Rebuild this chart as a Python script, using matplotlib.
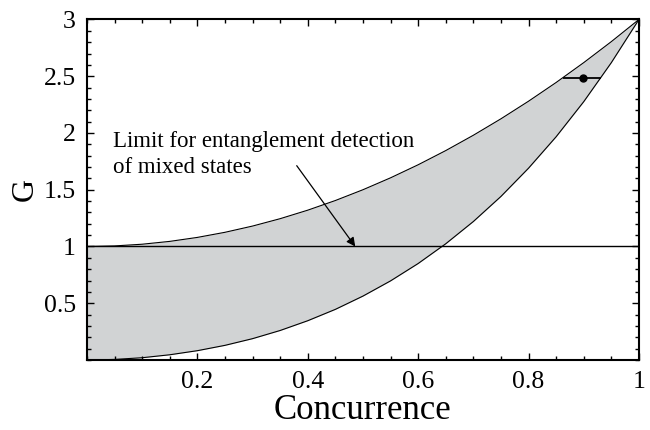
import matplotlib.pyplot as plt
from matplotlib.ticker import MultipleLocator, FixedLocator, FuncFormatter

plt.rcParams['font.family'] = ['Liberation Serif', 'DejaVu Serif']

concurrence = [0.00, 0.05, 0.10, 0.15, 0.20, 0.25, 0.30, 0.35, 0.40, 0.45, 0.50,
               0.55, 0.60, 0.65, 0.70, 0.75, 0.80, 0.85, 0.90, 0.95, 1.00]
g_upper = [1.00, 1.005, 1.02, 1.045, 1.08, 1.125, 1.18, 1.245, 1.32, 1.405, 1.50,
           1.605, 1.72, 1.845, 1.98, 2.125, 2.28, 2.445, 2.62, 2.805, 3.00]
g_lower = [0.00, 0.005, 0.020, 0.046, 0.082, 0.129, 0.188, 0.260, 0.346, 0.446, 0.563,
           0.697, 0.850, 1.024, 1.220, 1.441, 1.690, 1.967, 2.276, 2.620, 3.00]

# measured point with horizontal error
punto_c = [0.898]
punto_g = [2.485]
error_c = [[0.036], [0.034]]

limite = 1.0
x_ticks = [0.2, 0.4, 0.6, 0.8, 1.0]
y_ticks = [0.5, 1.0, 1.5, 2.0, 2.5, 3.0]

fig = plt.figure(figsize=(6.5, 4.3), dpi=100)
ax = fig.add_axes([0.1338, 0.1628, 0.8492, 0.7919])

ax.fill_between(concurrence, g_lower, g_upper, color='#d1d3d4', lw=0)
ax.plot(concurrence, g_upper, color='k', lw=0.8)
ax.plot(concurrence, g_lower, color='k', lw=0.8)
ax.axhline(limite, color='k', lw=1.0)

ax.errorbar(punto_c, punto_g, xerr=error_c, fmt='o', color='k', ms=5,
            elinewidth=1.3, capsize=0)

ax.text(0.0477, 1.879, 'Limit for entanglement detection', fontsize=16.5,
        va='baseline', ha='left')
ax.text(0.0477, 1.650, 'of mixed states', fontsize=16.5,
        va='baseline', ha='left')
ax.annotate('', xy=(0.486, 1.0), xytext=(0.380, 1.712),
            arrowprops=dict(arrowstyle='-|>', color='k', lw=0.9,
                            mutation_scale=13, shrinkA=0, shrinkB=0))

ax.set_xlim(0, 1)
ax.set_ylim(0, 3)
ax.xaxis.set_major_locator(FixedLocator(x_ticks))
ax.yaxis.set_major_locator(FixedLocator(y_ticks))
ax.xaxis.set_minor_locator(MultipleLocator(0.05))
ax.yaxis.set_minor_locator(MultipleLocator(0.1))
fmt = FuncFormatter(lambda v, p: '%g' % v)
ax.xaxis.set_major_formatter(fmt)
ax.yaxis.set_major_formatter(fmt)

ax.tick_params(which='both', direction='in', top=True, right=True, width=1.0)
ax.tick_params(which='major', length=5, labelsize=18.5, pad=8)
ax.tick_params(which='minor', length=3)
for s in ax.spines.values():
    s.set_linewidth(1.5)

ax.set_xlabel('Concurrence', fontsize=25, labelpad=1)
ax.set_ylabel('G', fontsize=23, labelpad=3)

fig.savefig('out.png', dpi=100)
